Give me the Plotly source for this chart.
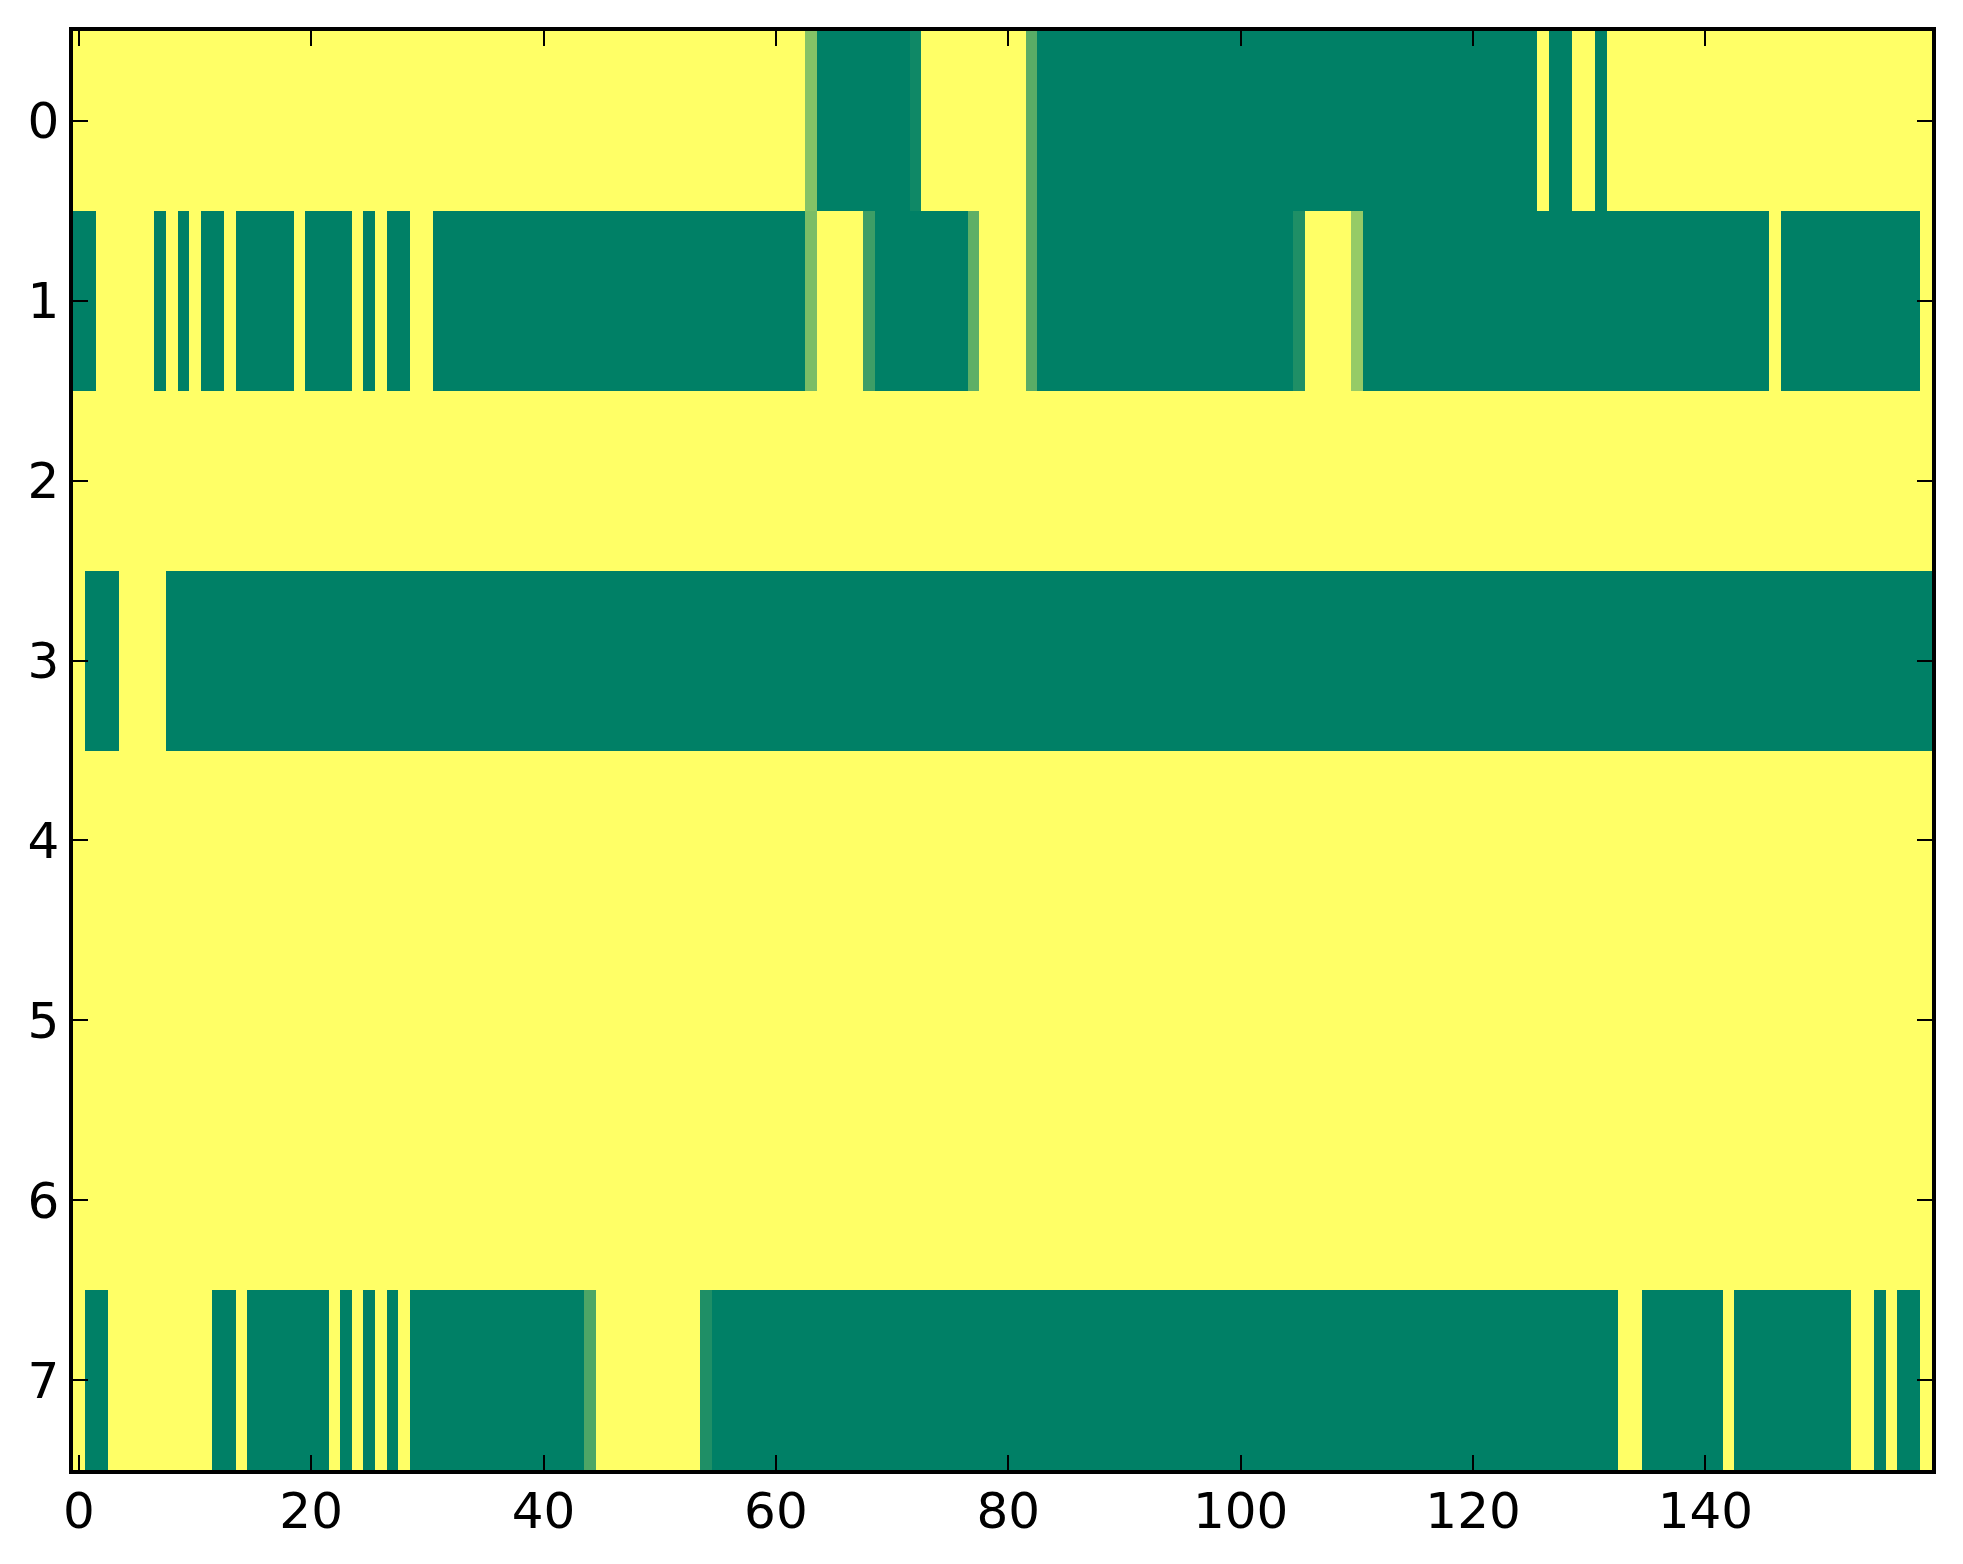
import numpy as np
import plotly.graph_objects as go

# matplotlib "summer" colormap end points
summer = [[0.0, 'rgb(0,128,102)'], [1.0, 'rgb(255,255,102)']]

n_cols = 160
rows = list(range(8))
x_ticks = [0, 20, 40, 60, 80, 100, 120, 140]

# each row as (value, run length) pairs, read left to right off the image
row0_runs = [(1, 63), (0.52, 1), (0, 8), (0.06, 1), (1, 9), (0.35, 1), (0, 43),
             (1, 1), (0, 2), (1, 2), (0, 1), (1, 28)]
row1_runs = [(0, 2), (1, 5), (0, 1), (1, 1), (0, 1), (1, 1), (0, 2), (1, 1), (0, 5),
             (1, 1), (0, 4), (1, 1), (0, 1), (1, 1), (0, 2), (1, 2), (0, 32), (0.48, 1),
             (1, 4), (0.24, 1), (0, 8), (0.37, 1), (1, 4), (0.35, 1), (0, 22), (0.12, 1),
             (1, 4), (0.59, 1), (0, 35), (1, 1), (0, 12), (1, 1)]
row2_runs = [(1, 160)]
row3_runs = [(1, 1), (0, 3), (1, 4), (0, 152)]
row4_runs = [(1, 160)]
row5_runs = [(1, 160)]
row6_runs = [(1, 160)]
row7_runs = [(1, 1), (0, 2), (1, 9), (0, 2), (1, 1), (0, 7), (1, 1), (0, 1), (1, 1),
             (0, 1), (1, 1), (0, 1), (1, 1), (0, 15), (0.3, 1), (1, 9), (0.12, 1),
             (0, 78), (1, 2), (0, 7), (1, 1), (0, 10), (1, 2), (0, 1), (1, 1), (0, 2), (1, 1)]


def expand(runs):
    out = []
    for v, n in runs:
        out += [v] * n
    return out


z = np.array([expand(r) for r in [row0_runs, row1_runs, row2_runs, row3_runs,
                                  row4_runs, row5_runs, row6_runs, row7_runs]])

fig = go.Figure(go.Heatmap(
    z=z, x=list(range(n_cols)), y=rows,
    colorscale=summer, zmin=0, zmax=1, showscale=False, zsmooth=False,
))

axis_style = dict(showline=True, linecolor='black', linewidth=3.5, mirror='allticks',
                  ticks='inside', ticklen=15, tickwidth=2, tickcolor='black',
                  showgrid=False, zeroline=False,
                  tickfont=dict(family='DejaVu Sans', size=50, color='black'))

# page body keeps its 8px default margin, so the figure is sized/offset for that
fig.update_layout(
    width=1947, height=1548, autosize=False,
    margin=dict(l=65, r=23, t=23, b=86),
    paper_bgcolor='white', plot_bgcolor='white',
    xaxis=dict(range=[-0.5, n_cols - 0.5], tickvals=x_ticks, ticklabelstandoff=-6, **axis_style),
    yaxis=dict(range=[7.5, -0.5], tickvals=rows, ticklabelstandoff=0, **axis_style),
)

fig.write_html("out.html")
